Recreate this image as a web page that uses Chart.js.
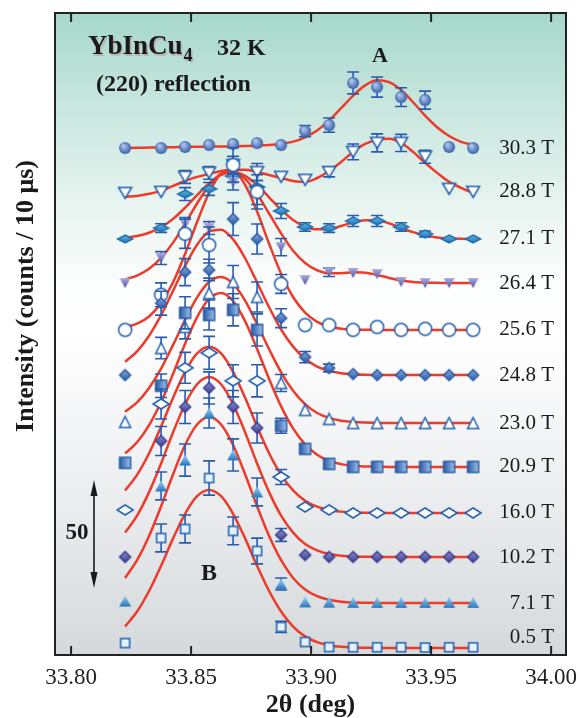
<!DOCTYPE html>
<html>
<head>
<meta charset="utf-8">
<script src="https://cdn.jsdelivr.net/npm/chart.js@4.4.1/dist/chart.umd.min.js"></script>
<style>
  html, body { margin: 0; padding: 0; background: #fff; }
  #chart { display: block; }
</style>
</head>
<body>
<canvas id="chart" width="580" height="718"></canvas>
<script>
// field labels (bottom to top) and vertical shift of each scan (counts)
const fieldLabels = ['0.5 T', '7.1 T', '10.2 T', '16.0 T', '20.9 T', '23.0 T', '24.8 T', '25.6 T', '26.4 T', '27.1 T', '28.8 T', '30.3 T'];
const offsets = [3.3, 24.3, 45.8, 66.4, 87.9, 108.4, 130.8, 151.9, 173.8, 194.4, 216.4, 236.9];

const twoTheta = [33.8225, 33.8375, 33.8475, 33.8575, 33.8675, 33.8775, 33.8875, 33.8975, 33.9075, 33.9175, 33.9275, 33.9375, 33.9475, 33.9575, 33.9675];
const fitTwoTheta = [33.8225, 33.8275, 33.8325, 33.8375, 33.8425, 33.8475, 33.8525, 33.8575, 33.8625, 33.8675, 33.8725, 33.8775, 33.8825, 33.8875, 33.8925, 33.8975, 33.9025, 33.9075, 33.9125, 33.9175, 33.9225, 33.9275, 33.9325, 33.9375, 33.9425, 33.9475, 33.9525, 33.9575, 33.9625, 33.9675];
const xTicks = [33.80, 33.85, 33.90, 33.95, 34.00];

// measured intensities (counts / 10 us, above background) and error bars
const counts05 = [2.3, 51.4, 55.6, 79.4, 54.7, 45.3, 9.8, 2.8, 0.4, 0.3, 0.3, 0.3, 0.2, 0.3, 0.3];
const err05 = [0, 6.5, 6.5, 8, 6.5, 6, 2.6, 0, 0, 0, 0, 0, 0, 0, 0];
const counts71 = [0.9, 54.7, 66.8, 88.8, 69.2, 51.9, 8.9, 0.5, 0.4, 0.3, 0.3, 0.3, 0.3, 0.3, 0.3];
const err71 = [0, 6.5, 7.5, 7, 7.5, 6.5, 2.8, 0, 0, 0, 0, 0, 0, 0, 0];
const counts102 = [0, 54.2, 70.1, 79.0, 70.1, 60.3, 10.3, 0.9, 0, 0, 0, 0, 0, 0, 0];
const err102 = [0, 6.8, 7.7, 7.5, 7.7, 7, 3, 0, 0, 0, 0, 0, 0, 0, 0];
const counts160 = [1.4, 50.9, 67.8, 74.8, 61.7, 61.7, 16.8, 2.8, 1.4, 0, 0, 0, 0, 0, 0];
const err160 = [0, 7, 7.2, 7.7, 7.5, 7.5, 3.5, 0, 0, 0, 0, 0, 0, 0, 0];
const counts209 = [1.9, 37.9, 72.0, 71.0, 73.4, 64.0, 19.2, 8.4, 1.4, 0, 0, 0, 0, 0, 0];
const err209 = [0, 5.5, 7.5, 7, 7.5, 7.5, 3.5, 0, 0, 0, 0, 0, 0, 0, 0];
const counts230 = [0.5, 35.0, 44.9, 60.7, 65.9, 58.9, 18.7, 6.1, 1.9, 0, 0, 0, 0, 0, 0];
const err230 = [0, 5, 5.6, 7, 7.7, 7, 4, 0, 0, 0, 0, 0, 0, 0, 0];
const counts248 = [0, 33.6, 48.1, 49.1, 72.9, 63.6, 26.6, 8.4, 3.3, 0.5, 0, 0, 0, 0, 0];
const err248 = [0, 5.6, 6.3, 5, 7.7, 7, 4.4, 2.6, 1.8, 0, 0, 0, 0, 0, 0];
const counts256 = [0, 16.4, 44.9, 39.7, 77.1, 64.5, 21.5, 2.3, 2.3, 0, 1.4, 0, 0.5, 0, 0];
const err256 = [0, 5.6, 6.8, 8.4, 8, 8, 4.4, 0, 0, 0, 0, 0, 0, 0, 0];
const counts264 = [0, 11.7, 27.6, 25.7, 47.2, 40.7, 16.8, 1.4, 5.1, 4.7, 4.2, 0.5, 0, 0, 0];
const err264 = [0, 3, 3, 3, 3.7, 4, 4, 0, 2, 0, 0, 0, 0, 0, 0];
const counts271 = [0, 5.1, 21.0, 23.4, 29.4, 24.3, 13.1, 5.6, 5.1, 8.4, 8.4, 5.6, 2.3, 0, 0];
const err271 = [0, 2, 3, 3, 3, 3, 3.5, 2, 2, 2.6, 2.6, 2, 1.4, 0, 0];
const counts288 = [-0.5, 0, 7.0, 8.9, 12.6, 9.3, 7.0, 5.6, 9.3, 18.7, 22.9, 22.9, 16.4, 1.4, 0];
const err288 = [0, 0, 3, 3, 4, 4, 0, 0, 2.3, 3.7, 4.2, 4, 3, 0, 0];
const counts303 = [0, 0, 0.5, 1.4, 1.9, 2.3, 1.4, 7.9, 10.7, 30.4, 28.5, 23.8, 22.4, 0.5, 0];
const err303 = [0, 0, 0, 0, 0, 0, 0, 2.6, 3.3, 5.1, 4.7, 4.4, 4.2, 0, 0];

// fitted curves, on fitTwoTheta
const fit05 = [10.0, 17.0, 26.6, 38.4, 51.2, 62.7, 70.9, 73.8, 70.9, 62.7, 51.2, 38.4, 26.6, 17.0, 10.0, 5.4, 2.7, 1.3, 0.5, 0.2, 0.1, 0, 0, 0, 0, 0, 0, 0, 0, 0];
const fit71 = [11.7, 20.0, 31.3, 45.2, 60.2, 73.8, 83.4, 86.9, 83.4, 73.8, 60.2, 45.2, 31.3, 20.0, 11.7, 6.3, 3.2, 1.5, 0.6, 0.2, 0.1, 0, 0, 0, 0, 0, 0, 0, 0, 0];
const fit102 = [11.4, 19.3, 30.3, 43.7, 58.3, 71.4, 80.7, 84.1, 80.7, 71.4, 58.3, 43.7, 30.3, 19.3, 11.4, 6.1, 3.1, 1.4, 0.6, 0.2, 0.1, 0, 0, 0, 0, 0, 0, 0, 0, 0];
const fit160 = [10.5, 17.8, 27.9, 40.4, 53.8, 65.9, 74.5, 77.6, 74.5, 65.9, 53.8, 40.4, 27.9, 17.8, 10.5, 5.7, 2.9, 1.3, 0.6, 0.2, 0.1, 0, 0, 0, 0, 0, 0, 0, 0, 0];
const fit209 = [6.3, 11.5, 19.5, 30.3, 43.5, 57.5, 70.0, 78.5, 81.3, 77.5, 68.1, 55.1, 41.1, 28.3, 18.0, 10.5, 5.7, 2.8, 1.3, 0.5, 0.2, 0.1, 0, 0, 0, 0, 0, 0, 0, 0];
const fit230 = [5.3, 9.7, 16.4, 25.4, 36.5, 48.2, 58.7, 65.9, 68.2, 65.0, 57.2, 46.2, 34.5, 23.7, 15.1, 8.8, 4.7, 2.4, 1.1, 0.5, 0.2, 0.1, 0, 0, 0, 0, 0, 0, 0, 0];
const fit248 = [6.2, 11.1, 18.4, 28.0, 39.4, 51.0, 60.9, 67.0, 67.9, 63.4, 54.6, 43.3, 31.7, 21.3, 13.3, 7.6, 4.0, 2.0, 0.9, 0.4, 0.1, 0, 0, 0, 0, 0, 0, 0, 0, 0];
const fit256 = [1.2, 2.9, 6.3, 12.6, 22.3, 35.5, 50.4, 64.1, 73.0, 74.4, 67.8, 55.3, 40.3, 26.3, 15.4, 8.1, 3.8, 1.6, 0.6, 0.2, 0.1, 0, 0, 0, 0, 0, 0, 0, 0, 0];
const fit264 = [1.7, 3.5, 6.7, 11.8, 18.9, 27.8, 37.2, 45.6, 51.0, 52.1, 48.7, 41.6, 32.5, 23.2, 15.1, 9.4, 6.0, 4.6, 4.6, 5.0, 4.8, 3.8, 2.4, 1.2, 0.5, 0.2, 0.1, 0, 0, 0];
const fit271 = [0.6, 1.4, 2.9, 5.5, 9.4, 14.6, 20.5, 26.1, 30.0, 31.3, 29.5, 25.2, 19.5, 13.7, 8.9, 5.8, 4.5, 4.7, 6.1, 7.8, 8.8, 8.7, 7.3, 5.2, 3.2, 1.7, 0.7, 0.3, 0.1, 0];
const fit288 = [-2.3, -1.9, -0.9, 0.5, 2.8, 5.1, 7.0, 8.4, 9.8, 10.3, 10.3, 9.3, 7.9, 6.5, 5.1, 4.7, 6.5, 9.8, 14.0, 18.7, 22.4, 24.3, 24.8, 22.9, 18.7, 13.6, 8.9, 4.7, 1.9, -0.5];
const fit303 = [0, 0.1, 0.2, 0.3, 0.4, 0.5, 0.6, 0.7, 0.7, 0.8, 0.9, 1.1, 1.4, 2.0, 3.0, 5.0, 8.2, 12.9, 18.6, 24.5, 29.3, 31.7, 30.8, 27.1, 21.4, 15.1, 9.7, 5.6, 2.9, 1.4];

const allCounts = [counts05, counts71, counts102, counts160, counts209, counts230, counts248, counts256, counts264, counts271, counts288, counts303];
const allErrors = [err05, err71, err102, err160, err209, err230, err248, err256, err264, err271, err288, err303];
const allFits = [fit05, fit71, fit102, fit160, fit209, fit230, fit248, fit256, fit264, fit271, fit288, fit303];

const serif = '"Liberation Serif", "Times New Roman", serif';
Chart.defaults.font.family = serif;

// little canvas markers so we get the shaded symbols of the figure
function makeMarker(shape, w, h, fill, stroke) {
  const c = document.createElement('canvas');
  c.width = w + 4;
  c.height = h + 4;
  const g = c.getContext('2d');
  g.translate(c.width / 2, c.height / 2);
  g.beginPath();
  if (shape === 'circle') {
    g.ellipse(0, 0, w / 2, h / 2, 0, 0, Math.PI * 2);
  } else if (shape === 'square') {
    g.rect(-w / 2, -h / 2, w, h);
  } else if (shape === 'diamond') {
    g.moveTo(0, -h / 2); g.lineTo(w / 2, 0); g.lineTo(0, h / 2); g.lineTo(-w / 2, 0); g.closePath();
  } else if (shape === 'up') {
    g.moveTo(0, -h / 2); g.lineTo(w / 2, h / 2); g.lineTo(-w / 2, h / 2); g.closePath();
  } else if (shape === 'down') {
    g.moveTo(-w / 2, -h / 2); g.lineTo(w / 2, -h / 2); g.lineTo(0, h / 2); g.closePath();
  }
  if (Array.isArray(fill)) {
    let grad;
    if (shape === 'circle') {
      grad = g.createRadialGradient(-w * 0.15, -h * 0.2, 1, 0, 0, w / 2);
    } else if (shape === 'square') {
      grad = g.createLinearGradient(-w / 2, 0, w / 2, 0);
    } else {
      grad = g.createLinearGradient(0, -h / 2, 0, h / 2);
    }
    grad.addColorStop(0, fill[0]);
    grad.addColorStop(1, fill[1]);
    g.fillStyle = grad;
  } else {
    g.fillStyle = fill;
  }
  g.fill();
  if (stroke) {
    g.lineWidth = 1.5;
    g.strokeStyle = stroke;
    g.stroke();
  }
  return c;
}

const blue = '#1f5fb0';
const markers = [
  makeMarker('square', 9, 9, '#e2f1fa', blue),                     // 0.5 T
  makeMarker('up', 12, 11, ['#9bd0f0', '#2876bd'], null),          // 7.1 T
  makeMarker('diamond', 11, 11, ['#8d90d4', '#3a3d8e'], '#3a3d8e'),// 10.2 T
  makeMarker('diamond', 16, 10, '#ffffff', blue),                  // 16.0 T
  makeMarker('square', 11, 11, ['#2a5ca6', '#9fc2ea'], '#2a5ca6'), // 20.9 T
  makeMarker('up', 11, 11, '#ffffff', blue),                       // 23.0 T
  makeMarker('diamond', 11, 11, ['#86acdf', '#2c5aa4'], '#2a5aa5'),// 24.8 T
  makeMarker('circle', 13, 13, '#ffffff', blue),                   // 25.6 T
  makeMarker('down', 11, 10, ['#a9abde', '#50539f'], null),        // 26.4 T
  makeMarker('diamond', 15, 8, ['#63b8e4', '#1d72b4'], '#1f6fb0'), // 27.1 T
  makeMarker('down', 13, 11, '#ffffff', blue),                     // 28.8 T
  makeMarker('circle', 12, 12, ['#a9c2ec', '#3a61ab'], null)       // 30.3 T
];

const datasets = [];
fieldLabels.forEach((label, i) => {
  datasets.push({
    label: label + ' fit',
    data: fitTwoTheta.map((x, k) => ({ x: x, y: offsets[i] + allFits[i][k] })),
    showLine: true,
    borderColor: '#ec3b2b',
    borderWidth: 2.5,
    pointRadius: 0,
    cubicInterpolationMode: 'monotone',
    order: 2
  });
  datasets.push({
    label: label,
    data: twoTheta.map((x, k) => ({ x: x, y: offsets[i] + allCounts[i][k] })),
    errors: allErrors[i],
    showLine: false,
    pointStyle: markers[i],
    pointRadius: 6,
    order: 1
  });
});

const bgPlugin = {
  id: 'bg',
  beforeDraw(chart) {
    const { ctx, chartArea: a } = chart;
    const g = ctx.createLinearGradient(0, a.top, 0, a.bottom);
    g.addColorStop(0, '#a6d7cb');
    g.addColorStop(0.12, '#c2e4db');
    g.addColorStop(0.3, '#e8f4f0');
    g.addColorStop(0.42, '#fcfdfd');
    g.addColorStop(0.5, '#ffffff');
    g.addColorStop(0.7, '#f0f1f3');
    g.addColorStop(1, '#d5d9dc');
    ctx.save();
    ctx.fillStyle = g;
    ctx.fillRect(a.left, a.top, a.right - a.left, a.bottom - a.top);
    ctx.restore();
  }
};

const errorBars = {
  id: 'errorBars',
  beforeDatasetDraw(chart, args) {
    const ds = chart.data.datasets[args.index];
    if (!ds.errors) return;
    const ys = chart.scales.y;
    const ctx = chart.ctx;
    ctx.save();
    ctx.strokeStyle = '#2a5cab';
    ctx.lineWidth = 1.6;
    args.meta.data.forEach((pt, k) => {
      const e = ds.errors[k];
      if (!e) return;
      const v = ds.data[k].y;
      const top = ys.getPixelForValue(v + e);
      const bot = ys.getPixelForValue(v - e);
      ctx.beginPath();
      ctx.moveTo(pt.x, top); ctx.lineTo(pt.x, bot);
      ctx.moveTo(pt.x - 6, top); ctx.lineTo(pt.x + 6, top);
      ctx.moveTo(pt.x - 6, bot); ctx.lineTo(pt.x + 6, bot);
      ctx.stroke();
    });
    ctx.restore();
  }
};

const decor = {
  id: 'decor',
  afterDraw(chart) {
    const { ctx, chartArea: a } = chart;
    const xs = chart.scales.x, ys = chart.scales.y;
    ctx.save();
    // frame + inward ticks
    ctx.strokeStyle = '#222';
    ctx.lineWidth = 2;
    ctx.strokeRect(a.left, a.top, a.right - a.left, a.bottom - a.top);
    ctx.beginPath();
    xTicks.forEach(v => {
      const px = xs.getPixelForValue(v);
      ctx.moveTo(px, a.bottom); ctx.lineTo(px, a.bottom - 9);
      ctx.moveTo(px, a.top); ctx.lineTo(px, a.top + 9);
    });
    ctx.stroke();

    // field labels on the right
    ctx.fillStyle = '#1a1a1a';
    ctx.font = '21px ' + serif;
    ctx.textAlign = 'right';
    ctx.textBaseline = 'middle';
    fieldLabels.forEach((t, i) => {
      const dy = i === 0 ? -10 : 0; // lowest label sits above its baseline
      ctx.fillText(t, 554, ys.getPixelForValue(offsets[i]) + dy);
    });

    // title block
    ctx.textAlign = 'left';
    ctx.textBaseline = 'alphabetic';
    ctx.font = 'bold 27px ' + serif;
    const w = ctx.measureText('YbInCu').width;
    ctx.fillStyle = '#b4b4b4';
    ctx.fillText('YbInCu', 89.5, 55.5);
    ctx.font = 'bold 18px ' + serif;
    ctx.fillText('4', 89.5 + w + 1, 62.5);
    ctx.fillStyle = '#1a1a1a';
    ctx.fillText('4', 88 + w + 1, 61);
    ctx.font = 'bold 27px ' + serif;
    ctx.fillText('YbInCu', 88, 54);
    ctx.font = 'bold 24px ' + serif;
    ctx.fillText('32 K', 217, 55);
    ctx.fillText('(220) reflection', 96, 91);

    ctx.textAlign = 'center';
    ctx.font = 'bold 22px ' + serif;
    ctx.fillText('A', 380, 62);
    ctx.font = 'bold 24px ' + serif;
    ctx.fillText('B', 209, 580);
    ctx.font = 'bold 23px ' + serif;
    ctx.textBaseline = 'middle';
    ctx.fillText('50', 77, 533);

    // 50-count scale arrow
    ctx.strokeStyle = '#1a1a1a';
    ctx.lineWidth = 1.6;
    ctx.beginPath();
    ctx.moveTo(94, 490); ctx.lineTo(94, 578);
    ctx.stroke();
    ctx.beginPath();
    ctx.moveTo(94, 480); ctx.lineTo(97.5, 496); ctx.lineTo(90.5, 496); ctx.closePath();
    ctx.moveTo(94, 588); ctx.lineTo(97.5, 572); ctx.lineTo(90.5, 572); ctx.closePath();
    ctx.fill();

    // y axis title
    ctx.translate(26, 296);
    ctx.rotate(-Math.PI / 2);
    ctx.font = 'bold 26px ' + serif;
    ctx.fillText('Intensity (counts / 10 \u03bcs)', 0, 0);
    ctx.restore();
  }
};

new Chart(document.getElementById('chart'), {
  type: 'scatter',
  data: { datasets: datasets },
  options: {
    responsive: false,
    animation: false,
    devicePixelRatio: 1,
    layout: { padding: { left: 55, right: 14, top: 13, bottom: 0 } },
    plugins: { legend: { display: false }, tooltip: { enabled: false } },
    scales: {
      x: {
        type: 'linear',
        min: 33.7933,
        max: 34.0062,
        afterBuildTicks: s => { s.ticks = xTicks.map(v => ({ value: v })); },
        afterFit: s => { s.height = 63; s.paddingLeft = 0; s.paddingRight = 0; },
        grid: { display: false, drawTicks: false },
        border: { display: false },
        ticks: {
          padding: 9,
          color: '#222',
          font: { size: 23 },
          callback: v => v.toFixed(2)
        },
        title: {
          display: true,
          text: '2\u03b8 (deg)',
          color: '#1a1a1a',
          font: { size: 26, weight: 'bold', lineHeight: 1 },
          padding: { top: 0, bottom: 0 }
        }
      },
      y: {
        display: false,
        min: 0,
        max: 300
      }
    }
  },
  plugins: [bgPlugin, errorBars, decor]
});
</script>
</body>
</html>
